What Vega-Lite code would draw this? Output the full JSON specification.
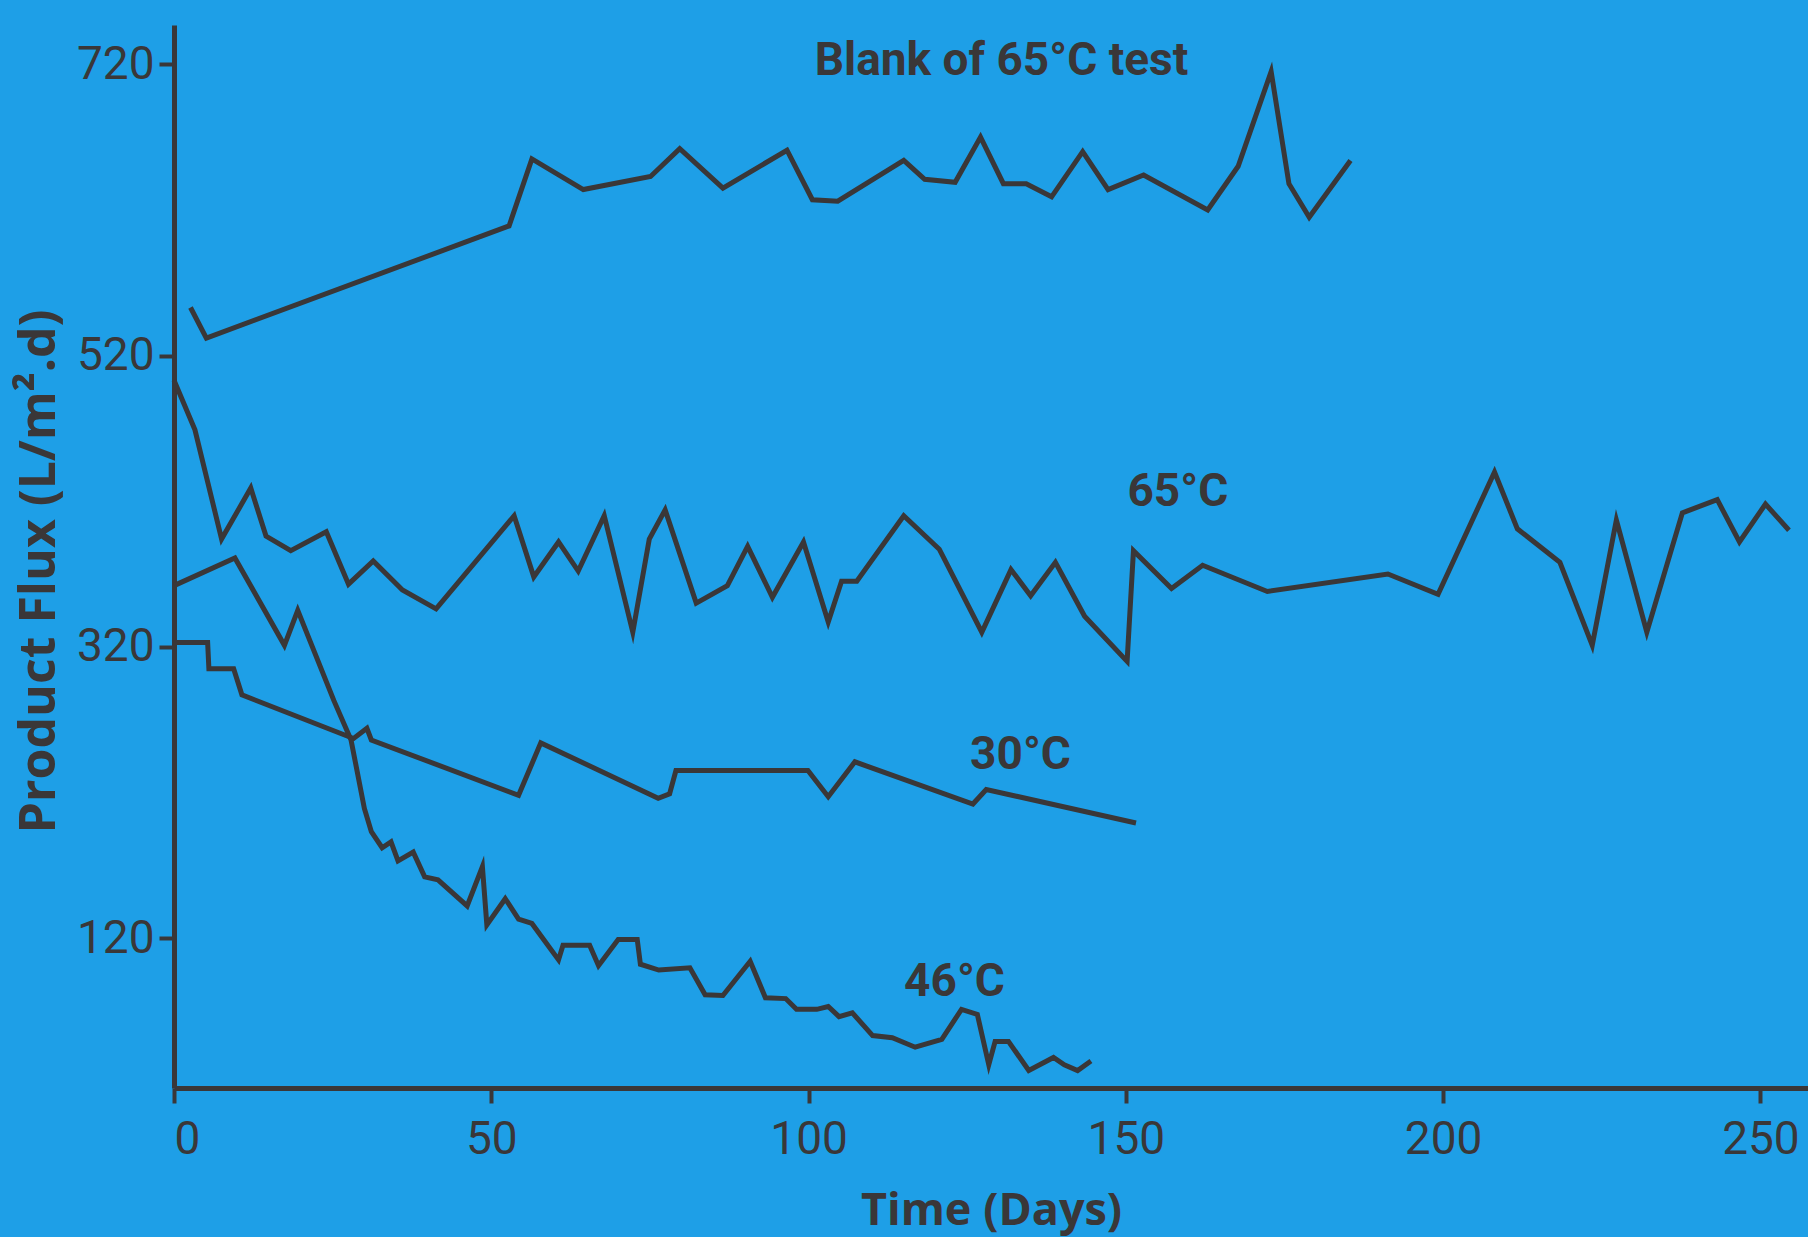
{
  "$schema": "https://vega.github.io/schema/vega-lite/v6.json",
  "width": 1634,
  "height": 1063,
  "autosize": {"type": "none"},
  "padding": {"left": 174, "top": 25, "right": 0, "bottom": 149},
  "background": "#1e9fe7",
  "config": {"view": {"stroke": null}, "font": "Roboto"},
  "datasets": {
    "flux": [
      {"s": "Blank", "day": 2.6, "flux": 553}, {"s": "Blank", "day": 5.1, "flux": 532}, {"s": "Blank", "day": 52.8, "flux": 609},
      {"s": "Blank", "day": 56.4, "flux": 655}, {"s": "Blank", "day": 64.5, "flux": 634}, {"s": "Blank", "day": 75.1, "flux": 643},
      {"s": "Blank", "day": 79.7, "flux": 662}, {"s": "Blank", "day": 86.5, "flux": 635}, {"s": "Blank", "day": 96.6, "flux": 661},
      {"s": "Blank", "day": 100.6, "flux": 627}, {"s": "Blank", "day": 104.6, "flux": 626}, {"s": "Blank", "day": 115.0, "flux": 654},
      {"s": "Blank", "day": 118.3, "flux": 641}, {"s": "Blank", "day": 123.1, "flux": 639}, {"s": "Blank", "day": 127.1, "flux": 670},
      {"s": "Blank", "day": 130.7, "flux": 638}, {"s": "Blank", "day": 134.3, "flux": 638}, {"s": "Blank", "day": 138.3, "flux": 629},
      {"s": "Blank", "day": 143.2, "flux": 660}, {"s": "Blank", "day": 147.2, "flux": 634}, {"s": "Blank", "day": 152.8, "flux": 644},
      {"s": "Blank", "day": 162.9, "flux": 620}, {"s": "Blank", "day": 167.7, "flux": 650}, {"s": "Blank", "day": 172.9, "flux": 715},
      {"s": "Blank", "day": 175.7, "flux": 638}, {"s": "Blank", "day": 178.9, "flux": 615}, {"s": "Blank", "day": 185.4, "flux": 654},

      {"s": "65", "day": 0, "flux": 503}, {"s": "65", "day": 3.3, "flux": 469}, {"s": "65", "day": 7.5, "flux": 394},
      {"s": "65", "day": 12.1, "flux": 429}, {"s": "65", "day": 14.5, "flux": 396}, {"s": "65", "day": 18.4, "flux": 386},
      {"s": "65", "day": 24.0, "flux": 399}, {"s": "65", "day": 27.5, "flux": 363}, {"s": "65", "day": 31.4, "flux": 379},
      {"s": "65", "day": 36.0, "flux": 359}, {"s": "65", "day": 41.3, "flux": 346}, {"s": "65", "day": 53.6, "flux": 410},
      {"s": "65", "day": 56.7, "flux": 368}, {"s": "65", "day": 60.6, "flux": 392}, {"s": "65", "day": 63.7, "flux": 372},
      {"s": "65", "day": 67.8, "flux": 410}, {"s": "65", "day": 72.3, "flux": 330}, {"s": "65", "day": 74.9, "flux": 394},
      {"s": "65", "day": 77.4, "flux": 414}, {"s": "65", "day": 82.3, "flux": 350}, {"s": "65", "day": 87.2, "flux": 362},
      {"s": "65", "day": 90.4, "flux": 389}, {"s": "65", "day": 94.3, "flux": 354}, {"s": "65", "day": 99.2, "flux": 392},
      {"s": "65", "day": 103.1, "flux": 337}, {"s": "65", "day": 105.2, "flux": 365}, {"s": "65", "day": 107.6, "flux": 365},
      {"s": "65", "day": 115.0, "flux": 410}, {"s": "65", "day": 120.6, "flux": 387}, {"s": "65", "day": 127.3, "flux": 330},
      {"s": "65", "day": 131.9, "flux": 373}, {"s": "65", "day": 135.0, "flux": 355}, {"s": "65", "day": 138.9, "flux": 378},
      {"s": "65", "day": 143.5, "flux": 341}, {"s": "65", "day": 150.2, "flux": 310}, {"s": "65", "day": 151.2, "flux": 386},
      {"s": "65", "day": 157.2, "flux": 360}, {"s": "65", "day": 162.1, "flux": 376}, {"s": "65", "day": 172.3, "flux": 358},
      {"s": "65", "day": 191.3, "flux": 370}, {"s": "65", "day": 199.2, "flux": 356}, {"s": "65", "day": 208.1, "flux": 440},
      {"s": "65", "day": 211.7, "flux": 401}, {"s": "65", "day": 218.4, "flux": 378}, {"s": "65", "day": 223.5, "flux": 321},
      {"s": "65", "day": 227.3, "flux": 407}, {"s": "65", "day": 232.1, "flux": 330}, {"s": "65", "day": 237.7, "flux": 412},
      {"s": "65", "day": 243.2, "flux": 421}, {"s": "65", "day": 246.7, "flux": 392}, {"s": "65", "day": 250.8, "flux": 418},
      {"s": "65", "day": 254.5, "flux": 400},

      {"s": "30", "day": 0, "flux": 323}, {"s": "30", "day": 5.3, "flux": 323}, {"s": "30", "day": 5.5, "flux": 305},
      {"s": "30", "day": 9.4, "flux": 305}, {"s": "30", "day": 10.7, "flux": 287}, {"s": "30", "day": 28.3, "flux": 257},
      {"s": "30", "day": 30.4, "flux": 264}, {"s": "30", "day": 31.1, "flux": 256}, {"s": "30", "day": 54.3, "flux": 218},
      {"s": "30", "day": 57.8, "flux": 254}, {"s": "30", "day": 76.3, "flux": 216}, {"s": "30", "day": 78.1, "flux": 219},
      {"s": "30", "day": 79.1, "flux": 235}, {"s": "30", "day": 99.9, "flux": 235}, {"s": "30", "day": 103.1, "flux": 217},
      {"s": "30", "day": 107.3, "flux": 241}, {"s": "30", "day": 125.9, "flux": 212}, {"s": "30", "day": 128.0, "flux": 222},
      {"s": "30", "day": 151.6, "flux": 199},

      {"s": "46", "day": 0, "flux": 362}, {"s": "46", "day": 9.6, "flux": 381}, {"s": "46", "day": 17.4, "flux": 321},
      {"s": "46", "day": 19.5, "flux": 345}, {"s": "46", "day": 25.2, "flux": 283}, {"s": "46", "day": 27.9, "flux": 256},
      {"s": "46", "day": 30.0, "flux": 209}, {"s": "46", "day": 31.1, "flux": 193}, {"s": "46", "day": 32.8, "flux": 182},
      {"s": "46", "day": 34.2, "flux": 186}, {"s": "46", "day": 35.3, "flux": 173}, {"s": "46", "day": 37.7, "flux": 179},
      {"s": "46", "day": 39.5, "flux": 162}, {"s": "46", "day": 41.6, "flux": 160}, {"s": "46", "day": 46.2, "flux": 142},
      {"s": "46", "day": 48.6, "flux": 169}, {"s": "46", "day": 49.3, "flux": 129}, {"s": "46", "day": 52.2, "flux": 147},
      {"s": "46", "day": 54.3, "flux": 133}, {"s": "46", "day": 56.4, "flux": 130}, {"s": "46", "day": 60.6, "flux": 105},
      {"s": "46", "day": 61.3, "flux": 115}, {"s": "46", "day": 65.5, "flux": 115}, {"s": "46", "day": 66.9, "flux": 101},
      {"s": "46", "day": 70.0, "flux": 119}, {"s": "46", "day": 73.0, "flux": 119}, {"s": "46", "day": 73.5, "flux": 102},
      {"s": "46", "day": 76.4, "flux": 98}, {"s": "46", "day": 81.3, "flux": 99.5}, {"s": "46", "day": 83.7, "flux": 81},
      {"s": "46", "day": 86.5, "flux": 80.5}, {"s": "46", "day": 90.8, "flux": 104}, {"s": "46", "day": 93.2, "flux": 79},
      {"s": "46", "day": 96.4, "flux": 78.4}, {"s": "46", "day": 98.1, "flux": 71}, {"s": "46", "day": 101.3, "flux": 71},
      {"s": "46", "day": 103.1, "flux": 73}, {"s": "46", "day": 104.8, "flux": 66}, {"s": "46", "day": 106.9, "flux": 68.6},
      {"s": "46", "day": 110.1, "flux": 53}, {"s": "46", "day": 113.2, "flux": 51.5}, {"s": "46", "day": 116.8, "flux": 45},
      {"s": "46", "day": 121.0, "flux": 50.4}, {"s": "46", "day": 124.1, "flux": 71}, {"s": "46", "day": 126.6, "flux": 67.5},
      {"s": "46", "day": 128.4, "flux": 33}, {"s": "46", "day": 129.4, "flux": 49}, {"s": "46", "day": 131.5, "flux": 49},
      {"s": "46", "day": 134.7, "flux": 29}, {"s": "46", "day": 138.6, "flux": 38}, {"s": "46", "day": 140.3, "flux": 33},
      {"s": "46", "day": 142.4, "flux": 29}, {"s": "46", "day": 144.5, "flux": 35.5}
    ],
    "labels": [
      {"text": "Blank of 65°C test", "day": 130.4, "flux": 713},
      {"text": "65°C", "day": 158.2, "flux": 417},
      {"text": "30°C", "day": 133.4, "flux": 236},
      {"text": "46°C", "day": 123.0, "flux": 80}
    ]
  },
  "layer": [
    {
      "data": {"name": "flux"},
      "mark": {"type": "line", "color": "#3a3738", "strokeWidth": 5, "strokeJoin": "miter", "strokeMiterLimit": 6},
      "encoding": {
        "x": {
          "field": "day", "type": "quantitative",
          "scale": {"domain": [0, 257.5], "nice": false, "zero": false},
          "axis": {
            "values": [0, 50, 100, 150, 200, 250], "grid": false,
            "domainColor": "#3a3738", "domainWidth": 5,
            "tickColor": "#3a3738", "tickWidth": 4, "tickSize": 15,
            "labelFont": "Roboto", "labelFontSize": 46, "labelColor": "#3a3738", "labelPadding": 14,
            "title": "Time (Days)", "titleFont": "Open Sans", "titleFontWeight": "bold", "titleFontSize": 45,
            "titleColor": "#3a3738", "titleBaseline": "alphabetic", "titleY": 136
          }
        },
        "y": {
          "field": "flux", "type": "quantitative",
          "scale": {"domain": [17, 747], "nice": false, "zero": false},
          "axis": {
            "values": [120, 320, 520, 720], "grid": false,
            "domainColor": "#3a3738", "domainWidth": 5,
            "tickColor": "#3a3738", "tickWidth": 4, "tickSize": 15,
            "labelFont": "Roboto", "labelFontSize": 46, "labelColor": "#3a3738", "labelPadding": 5,
            "title": "Product Flux (L/m².d)", "titleFont": "Open Sans", "titleFontWeight": "bold", "titleFontSize": 50,
            "titleColor": "#3a3738", "titleBaseline": "alphabetic", "titleX": -120, "titleY": 546, "titleAngle": 270
          }
        },
        "detail": {"field": "s"}
      }
    },
    {
      "data": {"name": "labels"},
      "mark": {"type": "text", "font": "Roboto", "fontSize": 46, "fontWeight": "bold", "color": "#3a3738", "align": "center", "baseline": "alphabetic"},
      "encoding": {
        "x": {"field": "day", "type": "quantitative"},
        "y": {"field": "flux", "type": "quantitative"},
        "text": {"field": "text"}
      }
    }
  ]
}
